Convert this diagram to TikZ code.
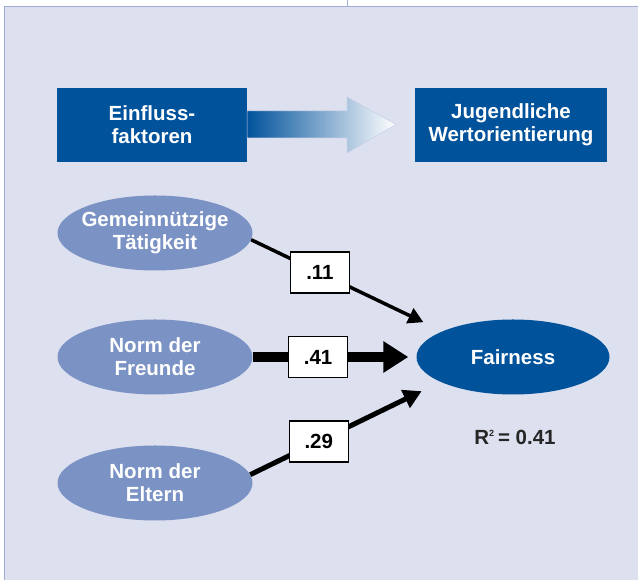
\documentclass[tikz,border=0pt]{standalone}
\usepackage{fontspec}
\setmainfont{Liberation Sans}
\usepackage{tikz}
\usetikzlibrary{shapes.geometric,arrows.meta}

\definecolor{dunkelblau}{RGB}{0,82,155}
\definecolor{hellblau}{RGB}{122,146,196}
\definecolor{hintergrund}{RGB}{221,224,239}
\definecolor{rahmen}{RGB}{160,172,212}

\begin{document}
\begin{tikzpicture}[x=1pt,y=1pt,
	schrift/.style={font=\fontsize{20.5}{23}\selectfont\bfseries,align=center},
	kasten/.style={schrift,shape=rectangle,fill=dunkelblau,text=white,minimum width=190pt,minimum height=74pt,inner sep=0pt},
	faktor/.style={schrift,shape=ellipse,fill=hellblau,text=white,minimum width=195pt,minimum height=75pt,inner xsep=-30pt,inner ysep=0pt},
	gewicht/.style={schrift,shape=rectangle,fill=white,draw=black,line width=1.5pt,minimum width=59pt,minimum height=41pt,inner sep=0pt}]
	\useasboundingbox (0,0) rectangle (638,580);
	\fill[hintergrund] (4.5,0) rectangle (638,573);
	\draw[rahmen,line width=1pt] (4.5,0) -- (4.5,573) -- (638,573);
	\draw[rahmen,line width=1pt] (347,573) -- (347,580);

	\node[kasten] (einf) at (152, 455) {Einfluss-\\faktoren};
	\node[kasten,minimum width=192pt] (jug) at (511, 455) {Jugendliche\\Wertorientierung};

	\shade[left color=dunkelblau,right color=white,draw=rahmen!60,line width=0.5pt]
		(einf.east |- 0,442) -- (347,442) -- (347,427) -- (396,455.5) -- (347,483) -- (347,469) -- (einf.east |- 0,469) -- cycle;

	\node[faktor] (gem) at (155, 347) {Gemeinnützige\\Tätigkeit};
	\node[faktor] (fre) at (155, 223) {Norm der\\Freunde};
	\node[faktor] (elt) at (155, 97)  {Norm der\\Eltern};
	\node[faktor,fill=dunkelblau,minimum width=193pt] (fair) at (513, 223) {Fairness};

	\path (gem.-4) edge[draw=black,line width=3.5pt,-{Triangle[length=15pt,width=16pt]},shorten >=21pt] node[gewicht,pos=.36]{.11} (fair.160.8);
	\path (fre.east) edge[draw=black,line width=10pt,-{Triangle[length=25pt,width=30pt]},shorten >=8pt] node[gewicht,pos=.4]{.41} (fair.west);
	\path (elt.5) edge[draw=black,line width=5pt,-{Triangle[length=18pt,width=19pt]},shorten >=21pt] node[gewicht,pos=.36]{.29} (fair.199.5);

	\node[schrift,text=black!85] (rq) at (515, 143) {R\textsuperscript{\fontsize{9}{9}\selectfont 2}\,= 0.41};
\end{tikzpicture}
\end{document}
